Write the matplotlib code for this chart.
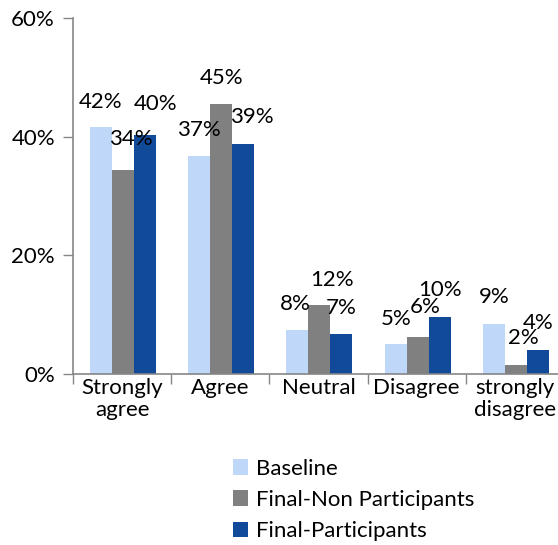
import matplotlib
matplotlib.use("Agg")
import matplotlib.pyplot as plt
import numpy as np

categories = ["Strongly\nagree", "Agree", "Neutral", "Disagree", "strongly\ndisagree"]
series_names = ["Baseline", "Final-Non Participants", "Final-Participants"]
baseline = [41.6, 36.7, 7.5, 5.0, 8.4]
non_participants = [34.3, 45.5, 11.6, 6.2, 1.6]
participants = [40.2, 38.8, 6.8, 9.6, 4.0]
labels_baseline = ["42%", "37%", "8%", "5%", "9%"]
labels_non = ["34%", "45%", "12%", "6%", "2%"]
labels_part = ["40%", "39%", "7%", "10%", "4%"]
yticks = [0, 20, 40, 60]
ytick_labels = ["0%", "20%", "40%", "60%"]

colors = ["#BFD7F8", "#808080", "#114A99"]
# label placement nudges (pixels), as in the reference's data-label layout
dx_px = [[-1, 0, -2, 0, 0], [8, 0, 13, 8, 7], [10, 9, 0, 0, 0]]
dy_px = [[19, 20, 20, 19, 21], [25, 20, 19, 24, 21], [25, 21, 20, 21, 21]]

plt.rcParams['font.family'] = ['Lato', 'DejaVu Sans']
FS = 16
PX = 0.72  # points per pixel at dpi 100

fig = plt.figure(figsize=(5.58, 5.45), dpi=100)
ax = fig.add_axes([73/558, (545-374)/545, 491/558, 356/545])

x = np.arange(len(categories))
w = 0.224
series = [baseline, non_participants, participants]
labels = [labels_baseline, labels_non, labels_part]
for i, (vals, labs, c, name) in enumerate(zip(series, labels, colors, series_names)):
    pos = x + (i - 1) * w + 0.01
    ax.bar(pos, vals, width=w, color=c, label=name)
    for j, (xp, v, lab) in enumerate(zip(pos, vals, labs)):
        ax.annotate(lab, (xp, v), xytext=(dx_px[i][j] * PX, dy_px[i][j] * PX),
                    textcoords="offset points",
                    ha="center", va="baseline", fontsize=FS, color="black")

ax.set_xlim(-0.5, len(categories) - 0.5)
ax.set_ylim(0, 60)
ax.set_yticks(yticks)
ax.set_yticklabels(ytick_labels, fontsize=FS)
ax.set_xticks(x)
ax.set_xticklabels(categories, fontsize=FS, linespacing=1.1)
ax.set_xticks(np.arange(-0.5, len(categories) + 0.5, 1), minor=True)
ax.tick_params(axis="x", which="major", length=0, pad=3)
ax.tick_params(axis="x", which="minor", length=7, color="#868686", width=1)
ax.tick_params(axis="y", length=7, color="#868686", width=1, pad=6)
for s in ["top", "right"]:
    ax.spines[s].set_visible(False)
for s in ["left", "bottom"]:
    ax.spines[s].set_color("#868686")
    ax.spines[s].set_linewidth(1.2)

handles, labs = ax.get_legend_handles_labels()
fig.legend(handles, labs, loc="upper left", bbox_to_anchor=(224/558, 1 - 450/545),
           frameon=False, fontsize=FS, handlelength=0.7, handleheight=0.7,
           handletextpad=0.35, labelspacing=0.5, borderaxespad=0)

fig.savefig("out.png", dpi=100)
